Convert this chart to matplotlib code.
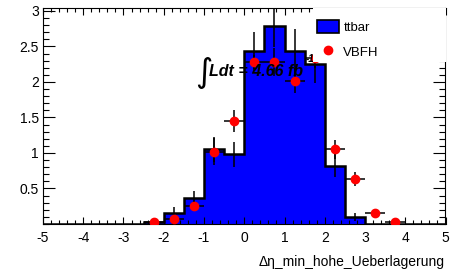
import numpy as np
import matplotlib.pyplot as plt
from matplotlib.ticker import MultipleLocator
from matplotlib.patches import Rectangle, Patch
from matplotlib.lines import Line2D

plt.rcParams['font.family'] = ['Liberation Sans', 'DejaVu Sans']
plt.rcParams['axes.unicode_minus'] = False

# histogram bins
bin_edges = np.arange(-2.5, 3.01, 0.5)
ttbar = [0.025, 0.16, 0.36, 1.05, 0.98, 2.43, 2.79, 2.44, 2.25, 0.82, 0.10]
ttbar_err = [0.01, 0.08, 0.11, 0.18, 0.18, 0.28, 0.30, 0.31, 0.27, 0.16, 0.06]

# VBFH points
vbfh_x = [-2.25, -1.75, -1.25, -0.75, -0.25, 0.25, 0.75, 1.25, 1.75, 2.25, 2.75, 3.25, 3.75]
vbfh_y = [0.025, 0.066, 0.26, 1.02, 1.45, 2.28, 2.28, 2.02, 2.34, 1.05, 0.63, 0.16, 0.025]
vbfh_err = [0.01, 0.03, 0.06, 0.19, 0.15, 0.10, 0.20, 0.17, 0.15, 0.13, 0.10, 0.04, 0.01]

xlabel = 'Δη_min_hohe_Ueberlagerung'

fig = plt.figure(figsize=(4.54, 2.80), dpi=100)
ax = fig.add_axes([43/454, 1 - 224/280, 402.5/454, 216/280])

# filled histogram with thick outline
edges_full = np.concatenate([[-5], bin_edges, [5]])
vals_full = np.concatenate([[0], ttbar, [0]])
ax.stairs(vals_full, edges_full, fill=True, color='#0000ff', zorder=1)
ax.stairs(vals_full, edges_full, color='black', linewidth=1.8, zorder=2)

centers = (bin_edges[:-1] + bin_edges[1:]) / 2
ax.errorbar(centers, ttbar, yerr=ttbar_err, fmt='none', ecolor='black',
            elinewidth=1.1, capsize=0, zorder=3)

ax.errorbar(vbfh_x, vbfh_y, xerr=0.25, yerr=vbfh_err, fmt='o', color='red',
            markersize=6, ecolor='black', elinewidth=1.1, capsize=0, zorder=4)

ax.set_xlim(-5, 5)
ax.set_ylim(0, 3.042)

ax.xaxis.set_major_locator(MultipleLocator(1))
ax.xaxis.set_minor_locator(MultipleLocator(0.2))
ax.yaxis.set_major_locator(MultipleLocator(0.5))
ax.yaxis.set_minor_locator(MultipleLocator(0.1))
ax.tick_params(which='both', direction='in', top=True, right=True, width=0.8, labelsize=10)
ax.tick_params(axis='x', which='major', length=5, pad=5)
ax.tick_params(axis='x', which='minor', length=2.9)
ax.tick_params(axis='y', which='major', length=8.6, pad=3)
ax.tick_params(axis='y', which='minor', length=4.3)
ax.set_yticks([0.5, 1, 1.5, 2, 2.5, 3])
ax.set_yticklabels(['0.5', '1', '1.5', '2', '2.5', '3'])
for s in ax.spines.values():
    s.set_linewidth(0.8)

fig.text(445/454, 1 - 262/280, xlabel, ha='right', va='center', fontsize=10)

# luminosity text
ax.text(0.378, 0.70, '∫', transform=ax.transAxes, fontsize=24, ha='left', va='center',
        family=['DejaVu Sans'], zorder=6)
ax.text(0.412, 0.705, 'Ldt = 4.66 fb', transform=ax.transAxes, fontsize=11.5,
        fontweight='bold', fontstyle='italic', ha='left', va='center', zorder=6)
ax.text(0.652, 0.762, '-1', transform=ax.transAxes, fontsize=7,
        fontweight='bold', fontstyle='italic', ha='left', va='center', zorder=6)

# legend box (white, covers data beneath)
ax.add_patch(Rectangle((270/402.5, 162/216), 1 - 270/402.5, 1 - 162/216,
                       transform=ax.transAxes, facecolor='white', edgecolor='none',
                       zorder=7, clip_on=False))
handles = [Patch(facecolor='#0000ff', edgecolor='black', linewidth=1.2),
           Line2D([], [], marker='o', color='red', linestyle='none', markersize=6)]
leg = ax.legend(handles, ['ttbar', 'VBFH'], loc='upper left',
                bbox_to_anchor=(274/402.5, 1 - 12/216), frameon=False, fontsize=9.5,
                handlelength=1.7, handleheight=1.15, handletextpad=0.3,
                labelspacing=0.8, borderpad=0, borderaxespad=0)
leg.set_zorder(8)

fig.savefig('out.png', dpi=100)
